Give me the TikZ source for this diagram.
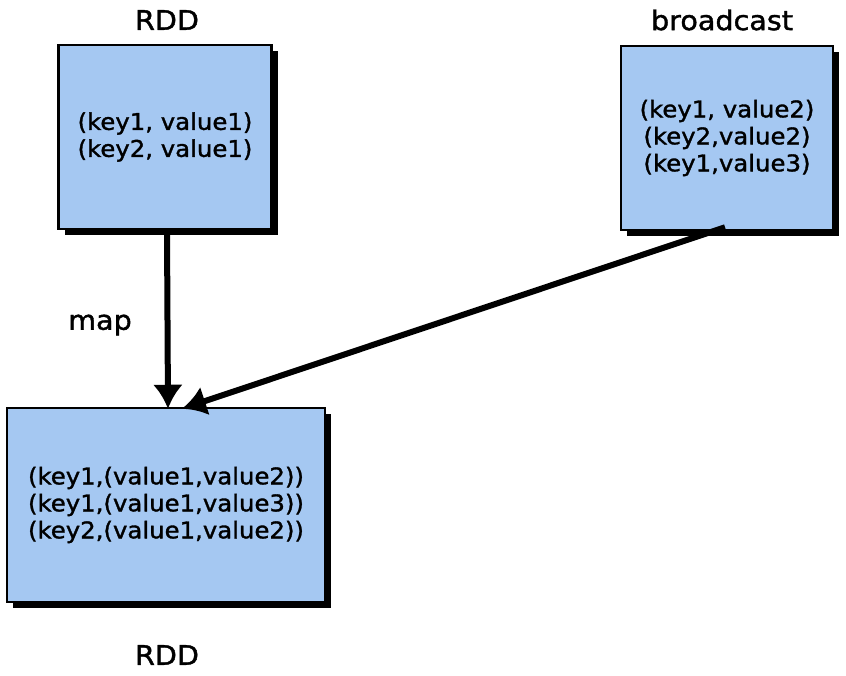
\documentclass[tikz,border=0pt]{standalone}
\usepackage{fontspec}
\setmainfont{DejaVu Sans}[FakeStretch=1.06,FakeBold=1.4]
\usetikzlibrary{shadows,arrows.meta}
\definecolor{boxblue}{RGB}{165,200,242}
\tikzset{
  databox/.style={draw=black, line width=2.5pt, fill=boxblue, align=center,
    font=\fontsize{23}{27}\selectfont,
    drop shadow={shadow xshift=6pt, shadow yshift=-6pt, fill=black, opacity=1}},
  title/.style={font=\fontsize{27}{30}\selectfont},
  flow/.style={line width=6pt, -{Latex[length=24pt,width=30pt]}}
}
\begin{document}
\begin{tikzpicture}[x=1pt,y=-1pt]
\useasboundingbox[fill=white] (0,0) rectangle (846,676);
\node[databox, minimum width=213pt, minimum height=184pt] (b1) at (165,137) {(key1, value1)\\(key2, value1)};
\node[databox, minimum width=212pt, minimum height=184pt] (b2) at (727,138) {(key1, value2)\\(key2,value2)\\(key1,value3)};
\node[databox, minimum width=318pt, minimum height=194pt] (b3) at (166,505) {(key1,(value1,value2))\\(key1,(value1,value3))\\(key2,(value1,value2))};
\node[title] (t1) at (167,20) {RDD};
\node[title] (t2) at (722,20) {broadcast};
\node[title] (t3) at (100,325) {map};
\node[title] (t4) at (167,655) {RDD};
\draw[flow] ([xshift=2pt,yshift=-2pt]b1.south) -- ([xshift=2pt,yshift=-2pt]b3.north);
\draw[flow] ([xshift=-2pt,yshift=4pt]b2.south) -- ([xshift=16pt,yshift=-2pt]b3.north);
\end{tikzpicture}
\end{document}
